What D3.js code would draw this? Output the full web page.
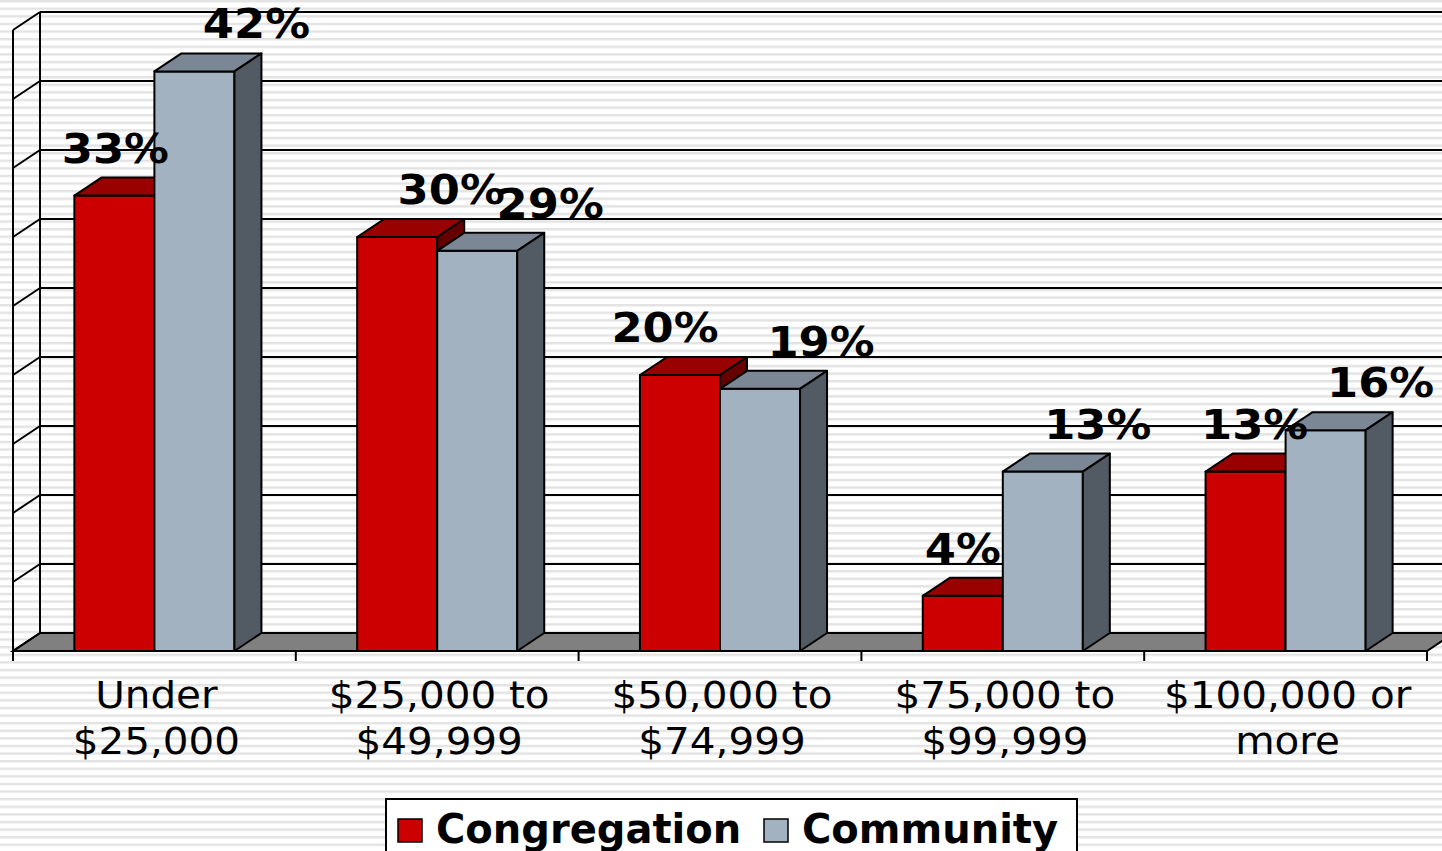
<!DOCTYPE html>
<html>
<meta charset="utf-8">
<style>
    body {
        margin: 0;
        background: #fff;
    }

    text {
        font-family: 'DejaVu Sans', Verdana, sans-serif;
    }
</style>

<body>
    <svg id="chart" width="1442" height="851"></svg>
    <script src="https://d3js.org/d3.v7.min.js"></script>
    <script>

        const categories = [["Under", "$25,000"], ["$25,000 to", "$49,999"], ["$50,000 to", "$74,999"], ["$75,000 to", "$99,999"], ["$100,000 or", "more"]];
        const seriesNames = ["Congregation", "Community"];
        const congregation = [33, 30, 20, 4, 13];
        const community = [42, 29, 19, 13, 16];
        const valueTicks = [0, 5, 10, 15, 20, 25, 30, 35, 40, 45];

        // label nudges (layout, not data)
        const labelDx = [[1, 54, -15, 0, 9], [62, 73, 61, 55, 55]];

        const faceColors = [
            { front: "#cc0000", top: "#990000", side: "#660000" },
            { front: "#a3b2c1", top: "#7b8794", side: "#525a63" }
        ];

        const width = 1442;
        const height = 851;
        const dx = 27, dy = 18;
        const left = 13, right = 1427, base = 651;

        const chart = d3.select("#chart");

        // striped page background
        const defs = chart.append("defs");
        const pat = defs.append("pattern")
            .attr("id", "stripes")
            .attr("patternUnits", "userSpaceOnUse")
            .attr("width", 10)
            .attr("height", 7.6)
            .attr("y", 0);
        pat.append("rect").attr("width", 10).attr("height", 7.6).attr("fill", "#ffffff");
        pat.append("rect").attr("y", 0).attr("width", 10).attr("height", 2.4).attr("fill", "#e3e3e3");

        chart.append("rect")
            .attr("width", width)
            .attr("height", height)
            .attr("fill", "url(#stripes)");

        const x0 = d3.scaleBand()
            .domain(d3.range(categories.length))
            .range([left, right]);

        const pairWidth = x0.bandwidth() * 0.566;
        const x1 = d3.scaleBand()
            .domain(d3.range(seriesNames.length))
            .range([0, pairWidth]);

        const y = d3.scaleLinear()
            .domain([0, 45])
            .range([base, 30]);

        const walls = chart.append("g")
            .attr("stroke", "black")
            .attr("stroke-width", 2)
            .attr("fill", "none");

        // floor
        walls.append("polygon")
            .attr("points", [[left, base], [left + dx, base - dy], [right + dx, base - dy], [right, base]].join(" "))
            .attr("fill", "#808080");

        // back wall gridlines
        walls.selectAll(".grid")
            .data(valueTicks.slice(1))
            .join("line")
            .attr("x1", left + dx)
            .attr("x2", width + 20)
            .attr("y1", d => y(d) - dy)
            .attr("y2", d => y(d) - dy);

        // side wall diagonals
        walls.selectAll(".diag")
            .data(valueTicks)
            .join("line")
            .attr("x1", left)
            .attr("y1", d => y(d))
            .attr("x2", left + dx)
            .attr("y2", d => y(d) - dy);

        walls.append("line")
            .attr("x1", left + dx).attr("x2", left + dx)
            .attr("y1", y(45) - dy).attr("y2", base - dy);

        walls.append("line")
            .attr("x1", left).attr("x2", left)
            .attr("y1", y(45)).attr("y2", base);

        // front category axis
        walls.append("line")
            .attr("x1", left).attr("x2", right)
            .attr("y1", base).attr("y2", base);

        const tickXs = d3.range(categories.length + 1).map(i => left + i * x0.step());
        walls.selectAll(".tick")
            .data(tickXs)
            .join("line")
            .attr("x1", d => d).attr("x2", d => d)
            .attr("y1", base).attr("y2", base + 10);

        // bars
        const allValues = [congregation, community];
        const barGroup = chart.append("g")
            .attr("stroke", "black")
            .attr("stroke-width", 2)
            .attr("stroke-linejoin", "round");

        categories.forEach((c, i) => {
            allValues.forEach((vals, s) => {
                const bx = x0(i) + (x0.bandwidth() - pairWidth) / 2 + x1(s);
                const bw = x1.bandwidth();
                const yt = y(vals[i]);
                const col = faceColors[s];

                barGroup.append("rect")
                    .attr("x", bx).attr("y", yt)
                    .attr("width", bw).attr("height", base - yt)
                    .attr("fill", col.front);

                barGroup.append("polygon")
                    .attr("points", [[bx, yt], [bx + dx, yt - dy], [bx + bw + dx, yt - dy], [bx + bw, yt]].join(" "))
                    .attr("fill", col.top);

                barGroup.append("polygon")
                    .attr("points", [[bx + bw, yt], [bx + bw + dx, yt - dy], [bx + bw + dx, base - dy], [bx + bw, base]].join(" "))
                    .attr("fill", col.side);
            });
        });

        // value labels
        const labels = chart.append("g");
        categories.forEach((c, i) => {
            allValues.forEach((vals, s) => {
                const bx = x0(i) + (x0.bandwidth() - pairWidth) / 2 + x1(s) + x1.bandwidth() / 2 + labelDx[s][i];
                const by = y(vals[i]) - 33;
                labels.append("text")
                    .attr("transform", "translate(" + bx + "," + by + ") scale(1.12,1)")
                    .attr("text-anchor", "middle")
                    .style("font-size", "40px")
                    .style("font-weight", "bold")
                    .text(vals[i] + "%");
            });
        });

        // category labels
        const catLabels = chart.append("g");
        categories.forEach((lines, i) => {
            const cx = x0(i) + x0.bandwidth() / 2;
            lines.forEach((line, j) => {
                catLabels.append("text")
                    .attr("transform", "translate(" + (cx + 2) + "," + (708 + j * 46) + ") scale(1.065,1)")
                    .attr("text-anchor", "middle")
                    .style("font-size", "38px")
                    .text(line);
            });
        });

        // legend
        const legend = chart.append("g");
        legend.append("rect")
            .attr("x", 386).attr("y", 799)
            .attr("width", 691).attr("height", 80)
            .attr("fill", "white")
            .attr("stroke", "black")
            .attr("stroke-width", 2);

        const legendX = [398, 764];
        seriesNames.forEach((name, s) => {
            legend.append("rect")
                .attr("x", legendX[s]).attr("y", 819)
                .attr("width", 24).attr("height", 23)
                .attr("fill", faceColors[s].front)
                .attr("stroke", "black")
                .attr("stroke-width", 1.5);
            legend.append("text")
                .attr("x", legendX[s] + 38)
                .attr("y", 843)
                .style("font-size", "40px")
                .style("font-weight", "bold")
                .text(name);
        });

    </script>
</body>

</html>
